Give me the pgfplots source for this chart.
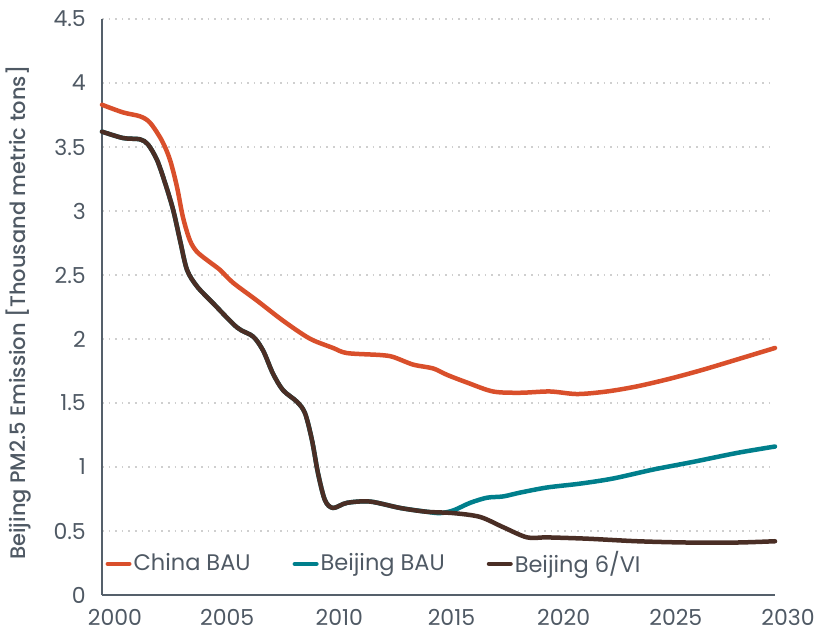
\documentclass[border=0pt]{standalone}
\usepackage{fontspec}
\setmainfont{Poppins}
\newfontfamily\labfont{Poppins Medium}
\usepackage{pgfplots}
\pgfplotsset{compat=1.18}

\definecolor{chinabau}{HTML}{D94F2B}
\definecolor{bjbau}{HTML}{007F8C}
\definecolor{bjvi}{HTML}{4A2E25}
\definecolor{txt}{HTML}{4F5964}
\definecolor{axisc}{HTML}{55606B}
\definecolor{gridc}{HTML}{CFCFCF}

\begin{document}
\fontsize{21bp}{25bp}\selectfont
\begin{tikzpicture}
\path[use as bounding box] (-102bp,-36bp) rectangle (713bp,595bp);
\begin{axis}[
  at={(0,0)}, anchor=south west,
  scale only axis, width=673bp, height=576bp,
  xmin=2000, xmax=2030, ymin=0, ymax=4.5,
  clip=false,
  xtick={2000,2005,2010,2015,2020,2025,2030},
  xticklabels={2000,2005,2010,2015,2020,2025,2030},
  ytick={0,0.5,1,1.5,2,2.5,3,3.5,4,4.5},
  yticklabels={0,0.5,1,1.5,2,2.5,3,3.5,4,4.5},
  axis x line*=bottom, axis y line*=left,
  axis line style={draw=axisc, line width=1.5bp},
  major tick length=0pt, tick style={draw=none},
  ymajorgrids,
  grid style={gridc, line width=1.6bp, dash pattern=on 1.6bp off 5bp},
  tick label style={text=txt, font=\fontsize{22bp}{25bp}\selectfont, inner sep=0pt},
  xticklabel style={anchor=north, yshift=-14bp, xshift=13bp, text depth=0pt},
  yticklabel style={anchor=east, xshift=-16bp},
  ylabel={Beijing PM2.5 Emission [Thousand metric tons]},
  ylabel style={at={(axis description cs:-0.1233,0.49)}, anchor=center, text=txt,
    font=\labfont\fontsize{21bp}{25bp}\selectfont},
  legend columns=3,
  legend cell align=left,
  legend style={draw=none, fill=none, anchor=west, inner sep=0pt,
    at={(axis description cs:0.005,0.054)},
    font=\fontsize{22.5bp}{26bp}\selectfont, text=txt,
    /tikz/every even column/.append style={column sep=40bp}},
  legend image code/.code={\draw[#1, line width=4.5bp, line cap=round] (2.25bp,0bp) -- (23.75bp,0bp);},
  every axis plot/.append style={line width=4.5bp, line cap=round, line join=round, smooth, tension=0.5},
]
% China BAU
\addplot[chinabau] coordinates {
(2000.00,3.83) (2000.94,3.77) (2001.69,3.74) (2002.14,3.69) (2002.67,3.55)
(2003.03,3.40) (2003.34,3.19) (2003.61,2.95) (2003.92,2.77) (2004.24,2.68)
(2004.81,2.60) (2005.26,2.54) (2005.84,2.44) (2006.91,2.30) (2007.94,2.16)
(2008.83,2.05) (2009.41,1.99) (2010.30,1.93) (2010.92,1.89) (2012.39,1.875)
(2012.97,1.86) (2013.87,1.80) (2014.76,1.77) (2015.38,1.72) (2016.27,1.66)
(2017.43,1.59) (2018.64,1.58) (2019.97,1.59) (2021.18,1.57) (2022.51,1.59)
(2023.85,1.63) (2025.32,1.69) (2026.79,1.76) (2028.31,1.84) (2030.00,1.93)
};
% Beijing BAU
\addplot[bjbau] coordinates {
(2000.00,3.62) (2000.94,3.57) (2001.69,3.56) (2002.05,3.52) (2002.45,3.40)
(2002.81,3.22) (2003.17,3.01) (2003.48,2.77) (2003.79,2.54) (2004.24,2.41)
(2004.95,2.28) (2006.02,2.09) (2006.73,2.02) (2007.18,1.91) (2007.62,1.73)
(2008.07,1.60) (2008.69,1.51) (2009.05,1.42) (2009.36,1.21) (2009.63,0.95)
(2009.94,0.74) (2010.30,0.68) (2010.92,0.72) (2011.95,0.73) (2013.29,0.68)
(2014.49,0.65) (2015.07,0.64) (2015.65,0.66) (2016.41,0.72) (2017.16,0.76)
(2017.88,0.77) (2018.64,0.80) (2019.84,0.84) (2021.31,0.87) (2022.78,0.91)
(2024.57,0.98) (2026.35,1.04) (2028.31,1.11) (2030.00,1.16)
};
% Beijing 6/VI
\addplot[bjvi] coordinates {
(2000.00,3.62) (2000.94,3.57) (2001.69,3.56) (2002.05,3.52) (2002.45,3.40)
(2002.81,3.22) (2003.17,3.01) (2003.48,2.77) (2003.79,2.54) (2004.24,2.41)
(2004.95,2.28) (2006.02,2.09) (2006.73,2.02) (2007.18,1.91) (2007.62,1.73)
(2008.07,1.60) (2008.69,1.51) (2009.05,1.42) (2009.36,1.21) (2009.63,0.95)
(2009.94,0.74) (2010.30,0.68) (2010.92,0.72) (2011.95,0.73) (2013.29,0.68)
(2014.49,0.65) (2015.65,0.64) (2016.85,0.61) (2017.88,0.53) (2018.95,0.45)
(2019.84,0.45) (2021.62,0.44) (2023.85,0.42) (2026.08,0.41) (2028.31,0.41)
(2030.00,0.42)
};
\legend{China BAU, Beijing BAU, Beijing 6/VI}
\end{axis}
\end{tikzpicture}
\end{document}
